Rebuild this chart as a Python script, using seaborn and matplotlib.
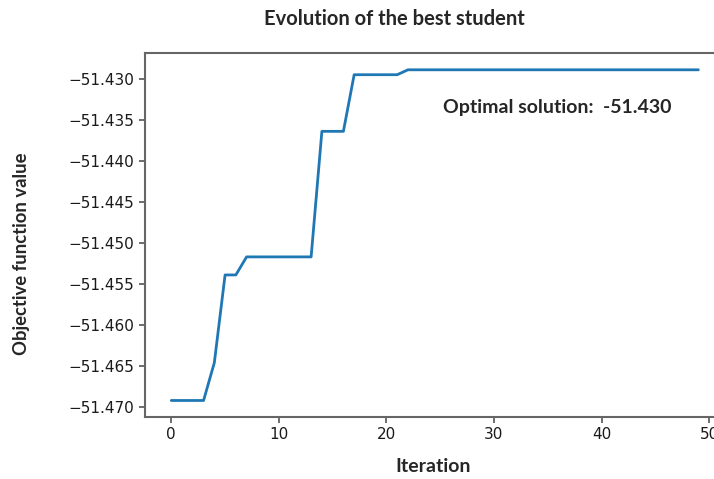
import numpy as np
import pandas as pd
import matplotlib
matplotlib.use('Agg')
import matplotlib.pyplot as plt
import seaborn as sns

# values
iterations = list(range(50))
best_values = [
    -51.4692, -51.4692, -51.4692, -51.4692, -51.4646,
    -51.4539, -51.4539, -51.4517, -51.4517, -51.4517,
    -51.4517, -51.4517, -51.4517, -51.4517, -51.4364,
    -51.4364, -51.4364, -51.4295, -51.4295, -51.4295,
    -51.4295, -51.4295, -51.4289, -51.4289, -51.4289,
    -51.4289, -51.4289, -51.4289, -51.4289, -51.4289,
    -51.4289, -51.4289, -51.4289, -51.4289, -51.4289,
    -51.4289, -51.4289, -51.4289, -51.4289, -51.4289,
    -51.4289, -51.4289, -51.4289, -51.4289, -51.4289,
    -51.4289, -51.4289, -51.4289, -51.4289, -51.4289,
]
x_ticks = [0, 10, 20, 30, 40, 50]
y_ticks = [-51.470, -51.465, -51.460, -51.455, -51.450, -51.445, -51.440, -51.435, -51.430]
optimal_text = 'Optimal solution:  -51.430'

df = pd.DataFrame({'Iteration': iterations, 'Objective function value': best_values})

sns.set_style('ticks')
plt.rcParams['font.family'] = ['DejaVu Sans']
label_font = ['Lato', 'DejaVu Sans']

fig = plt.figure(figsize=(7.14, 4.79), dpi=100)
ax = fig.add_axes([0.203, 0.1294, 0.812, 0.7594])

sns.lineplot(data=df, x='Iteration', y='Objective function value', ax=ax,
             color='#1f77b4', linewidth=2)

ax.set_xticks(x_ticks)
ax.set_yticks(y_ticks)
ax.ticklabel_format(axis='y', useOffset=False)
ax.tick_params(labelsize=11, colors='#555555', labelcolor='#1a1a1a', length=4, width=1.2)
for s in ax.spines.values():
    s.set_color('#666666')
    s.set_linewidth(1.5)
ax.spines['right'].set_visible(False)

ax.set_xlabel('')
ax.set_ylabel('')
fig.text(433 / 714, 1 - 467 / 479, 'Iteration', ha='center', va='center',
         fontsize=14, fontweight='bold', family=label_font)
fig.text(22 / 714, 1 - 254 / 479, 'Objective function value', ha='center', va='center',
         rotation=90, fontsize=13.3, fontweight='bold', family=label_font)
fig.text(394 / 714, 1 - 19 / 479, 'Evolution of the best student', ha='center', va='center',
         fontsize=14.5, fontweight='bold', family=label_font)

ax.text(0.514, 0.85, optimal_text, transform=ax.transAxes, ha='left', va='center',
        fontsize=14, fontweight='bold', family=label_font)

fig.savefig('out.png', dpi=100)
